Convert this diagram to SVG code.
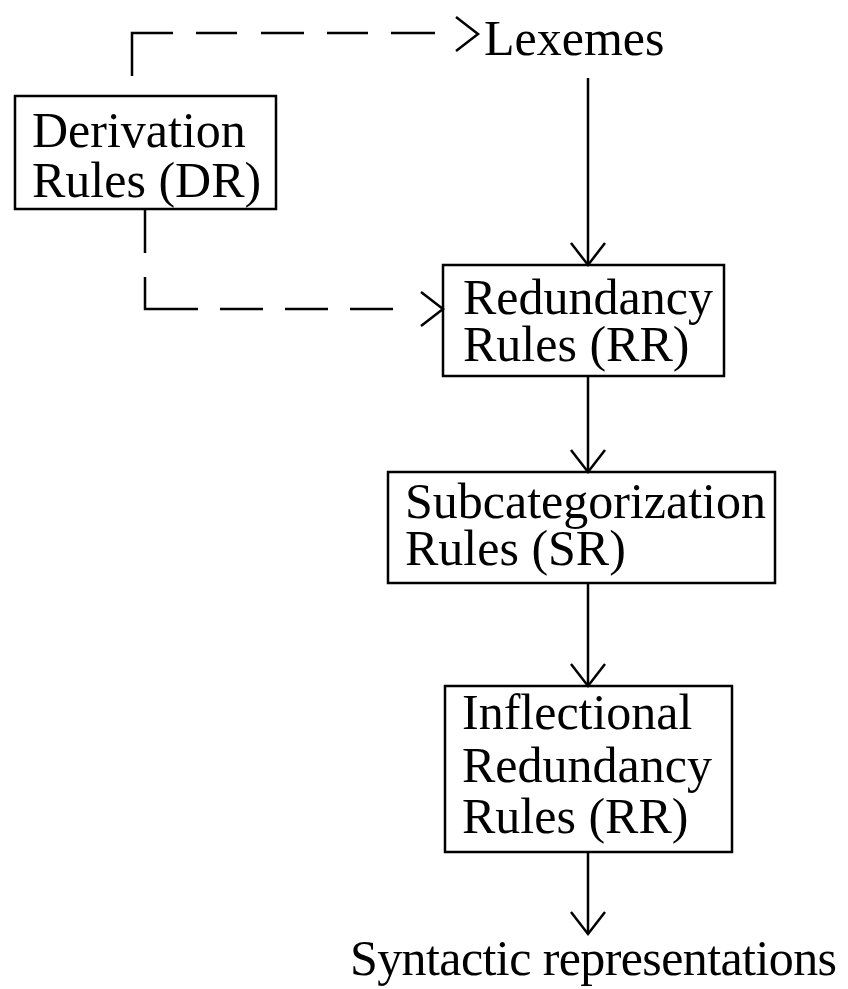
<svg xmlns="http://www.w3.org/2000/svg" width="848" height="989" viewBox="0 0 848 989">
<style>
.box{fill:none;stroke:#000;stroke-width:2.5}
.ln{fill:none;stroke:#000;stroke-width:2.5;stroke-linecap:butt;stroke-linejoin:miter}
.t{font-family:"Liberation Serif","Times New Roman",serif;font-size:50px;fill:#000}
</style>
<rect width="848" height="989" fill="#fff"/>
<g id="connectors">
  <!-- DR to Lexemes (dashed) -->
  <polyline class="ln" points="132,76 132,33 173,33"/>
  <line class="ln" x1="196" y1="33" x2="237" y2="33"/>
  <line class="ln" x1="261" y1="33" x2="304" y2="33"/>
  <line class="ln" x1="327" y1="33" x2="368" y2="33"/>
  <line class="ln" x1="391" y1="33" x2="435" y2="33"/>
  <polyline class="ln" points="456,17 478,34 456,51"/>
  <!-- DR to RR (dashed) -->
  <line class="ln" x1="145" y1="209" x2="145" y2="253"/>
  <polyline class="ln" points="145,277 145,309 198,309"/>
  <line class="ln" x1="220" y1="309" x2="263" y2="309"/>
  <line class="ln" x1="285" y1="309" x2="328" y2="309"/>
  <line class="ln" x1="350" y1="309" x2="393" y2="309"/>
  <polyline class="ln" points="421,292 443,309 421,326"/>
  <!-- Lexemes to RR -->
  <line class="ln" x1="588" y1="78" x2="588" y2="265"/>
  <polyline class="ln" points="571,243 588,265 605,243"/>
  <!-- RR to SR -->
  <line class="ln" x1="588" y1="376" x2="588" y2="472"/>
  <polyline class="ln" points="571,450 588,472 605,450"/>
  <!-- SR to IRR -->
  <line class="ln" x1="588" y1="583" x2="588" y2="686"/>
  <polyline class="ln" points="571,664 588,686 605,664"/>
  <!-- IRR to Syntactic -->
  <line class="ln" x1="588" y1="852" x2="588" y2="934"/>
  <polyline class="ln" points="571,912 588,934 605,912"/>
</g>
<g id="lexemes">
  <text class="t" x="484" y="55">Lexemes</text>
</g>
<g id="dr">
  <rect class="box" x="15" y="96" width="261" height="113"/>
  <text class="t" x="32" y="147">Derivation</text>
  <text class="t" x="32" y="197">Rules (DR)</text>
</g>
<g id="rr">
  <rect class="box" x="443" y="265" width="281" height="111"/>
  <text class="t" x="463" y="314">Redundancy</text>
  <text class="t" x="463" y="361">Rules (RR)</text>
</g>
<g id="sr">
  <rect class="box" x="388" y="472" width="387" height="111"/>
  <text class="t" x="405" y="518">Subcategorization</text>
  <text class="t" x="405" y="565">Rules (SR)</text>
</g>
<g id="irr">
  <rect class="box" x="445" y="686" width="287" height="166"/>
  <text class="t" x="462" y="729">Inflectional</text>
  <text class="t" x="462" y="782">Redundancy</text>
  <text class="t" x="462" y="833">Rules (RR)</text>
</g>
<g id="syntactic">
  <text class="t" x="350" y="975" textLength="487" lengthAdjust="spacing">Syntactic representations</text>
</g>
</svg>
